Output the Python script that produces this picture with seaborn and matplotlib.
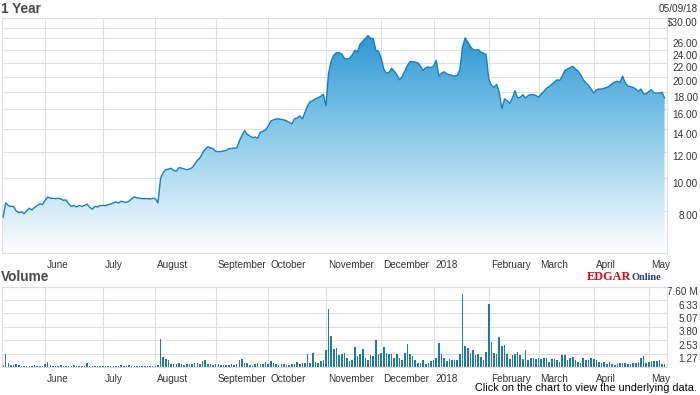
import numpy as np
import pandas as pd
import matplotlib
matplotlib.use("Agg")
import matplotlib.pyplot as plt
import matplotlib.transforms as mtransforms
from matplotlib.colors import LinearSegmentedColormap
from matplotlib.ticker import NullLocator
import seaborn as sns

# --- data: one value per trading day, 2017-05-09 .. 2018-05-09 ---
holidays = ["2017-05-29", "2017-07-04", "2017-09-04", "2017-11-23", "2017-12-25",
            "2018-01-01", "2018-01-15", "2018-02-19", "2018-03-30"]
days = pd.bdate_range("2017-05-09", "2018-05-09", freq="C", holidays=holidays)

close_price = [
    # May 2017
    7.66, 8.45, 8.3, 8.25, 8.25, 8.0, 7.9, 7.95, 7.85, 8.0, 8.15, 8.05, 8.2, 8.3, 8.4, 8.35,
    # June
    8.6, 8.8, 8.72, 8.72, 8.7, 8.72, 8.68, 8.6, 8.62, 8.4, 8.25, 8.3, 8.22, 8.3, 8.25, 8.3,
    8.38, 8.2, 8.1, 8.25, 8.22, 8.3,
    # July
    8.3, 8.3, 8.35, 8.38, 8.45, 8.5, 8.45, 8.55, 8.5, 8.48, 8.55, 8.7, 8.8, 8.75, 8.72, 8.7,
    8.7, 8.7, 8.68, 8.72,
    # August
    8.7, 8.45, 10.0, 10.4, 10.6, 10.65, 10.7, 10.55, 10.5, 10.75, 10.72, 10.65, 10.6, 10.65,
    10.75, 11.0, 11.3, 11.5, 11.9, 12.2, 12.4, 12.3, 12.25,
    # September
    12.0, 12.0, 12.0, 12.05, 12.1, 12.25, 12.25, 12.28, 12.3, 12.9, 13.4, 13.85, 13.5, 13.35,
    13.2, 13.25, 13.15, 13.7, 13.8, 13.9,
    # October
    14.3, 14.8, 14.9, 15.0, 15.0, 14.95, 14.9, 14.8, 14.65, 14.5, 15.0, 15.1, 15.3, 15.0,
    15.7, 16.4, 16.9, 17.0, 17.2, 17.35, 17.5, 17.75,
    # November
    16.4, 20.5, 22.3, 23.2, 23.6, 23.6, 23.4, 22.7, 22.6, 22.7, 23.2, 24.0, 23.7, 25.0,
    25.5, 26.0, 26.5, 26.0, 26.0, 24.0, 23.8,
    # December
    22.8, 21.1, 20.5, 20.6, 21.2, 20.8, 20.3, 19.6, 20.0, 20.8, 21.6, 22.2, 22.2, 22.1,
    22.0, 21.5, 20.9, 21.3, 21.4, 21.3,
    # January 2018
    21.5, 22.4, 20.1, 20.5, 20.7, 20.4, 20.3, 20.2, 20.1, 20.2, 21.0, 24.5, 26.1, 25.4,
    24.6, 24.1, 24.0, 24.1, 23.7, 23.5, 23.3,
    # February
    19.7, 18.9, 18.6, 19.0, 18.0, 16.1, 17.2, 17.0, 16.7, 17.3, 18.2, 17.3, 17.4, 17.7,
    17.3, 17.6, 17.7, 17.7, 17.6,
    # March
    17.4, 17.8, 18.1, 18.5, 18.7, 19.0, 19.3, 19.6, 19.5, 20.1, 20.9, 21.1, 21.3, 21.5,
    21.1, 20.8, 20.3, 19.6, 19.2, 18.9, 18.4,
    # April
    17.9, 18.3, 18.4, 18.4, 18.5, 18.6, 18.8, 19.1, 19.3, 19.4, 19.3, 20.1, 19.2, 18.8,
    18.7, 18.6, 18.4, 18.1, 18.4, 17.8, 17.8,
    # May 2018
    18.1, 18.3, 17.9, 17.9, 17.9, 18.0, 17.3,
]

volume_m = [
    0.15, 1.2, 0.35, 0.2, 0.15, 0.25, 0.2, 0.12, 0.1, 0.1,
    0.1, 0.12, 0.2, 0.1, 0.1, 0.12, 0.25, 0.45, 0.2, 0.1,
    0.1, 0.1, 0.18, 0.12, 0.1, 0.1, 0.12, 0.18, 0.12, 0.1,
    0.12, 0.1, 0.35, 0.1, 0.1, 0.1, 0.1, 0.1, 0.1, 0.1,
    0.1, 0.1, 0.1, 0.1, 0.12, 0.2, 0.12, 0.1, 0.18, 0.1,
    0.1, 0.1, 0.1, 0.1, 0.12, 0.1, 0.1, 0.1, 0.12, 0.15,
    2.65, 0.9, 0.8, 0.7, 0.3, 0.25, 0.25, 0.4, 0.25, 0.2,
    0.25, 0.25, 0.25, 0.4, 0.4, 0.3, 0.6, 0.7, 0.25, 0.25,
    0.15, 0.25, 0.25, 0.15, 0.15, 0.15, 0.15, 0.25, 0.2, 0.25,
    0.7, 0.8, 0.35, 0.35, 0.15, 0.12, 0.3, 0.35, 0.3, 0.25,
    0.5, 0.3, 0.55, 0.35, 0.25, 0.22, 0.25, 0.25, 0.15, 0.15,
    0.25, 0.25, 0.45, 0.25, 0.35, 0.42, 1.2, 0.35, 1.3, 0.5,
    0.4, 0.55, 0.7, 1.6, 5.5,
    2.95, 1.68, 1.77, 1.14, 1.2,
    1.3, 0.82, 0.57, 0.63, 1.9, 1.04, 1.2, 1.68, 0.82, 0.63,
    1.1, 1.04, 2.53, 1.2, 1.3, 1.9, 1.36, 1.2, 1.2, 0.89,
    1.2, 0.89, 0.63, 1.3, 2.15, 1.27, 1.04, 0.63, 0.41, 0.41,
    0.63, 0.25, 0.41, 0.57, 0.63, 0.82, 2.3, 1.2, 0.82, 0.57,
    0.73, 0.63, 0.63, 0.63, 1.2, 6.9, 1.96, 1.84, 1.3, 1.58,
    1.14, 1.2, 0.95, 0.63, 1.46, 6.0, 2.4, 1.36, 1.27, 2.88,
    1.96, 2.05, 1.27, 0.73, 1.1, 1.2, 1.46, 1.1, 0.73, 1.58,
    0.63, 0.82, 0.82, 0.76, 0.82, 0.76, 0.82, 0.82, 0.51, 0.73,
    0.73, 0.63, 0.51, 1.14, 1.14, 0.63, 0.89, 0.95, 0.63, 0.51,
    0.41, 0.82, 0.63, 0.63, 0.89, 0.73, 0.63, 0.51, 0.41, 0.51,
    0.25, 0.51, 0.25, 0.19, 0.32, 0.41, 0.41, 0.41, 0.25, 0.25,
    0.41, 0.41, 0.51, 0.82, 1.04, 0.38, 0.51, 0.57, 0.57, 0.57,
    0.63, 0.25, 0.3,
]

month_labels = ["June", "July", "August", "September", "October", "November",
                "December", "2018", "February", "March", "April", "May"]
price_ticks = [8, 10, 12, 14, 16, 18, 20, 22, 24, 26, 28, 30]
price_tick_labels = ["8.00", "10.00", "12.00", "14.00", "16.00", "18.00", "20.00",
                     "22.00", "24.00", "26.00", "", "$30.00"]
vol_ticks = [0, 1.27, 2.53, 3.80, 5.07, 6.33, 7.60]
vol_tick_labels = ["", "1.27", "2.53", "3.80", "5.07", "6.33", "7.60 M"]

n = min(len(close_price), len(volume_m), len(days))
day_idx = np.arange(n)
df = pd.DataFrame({"day": day_idx, "price": close_price[:n], "volume": volume_m[:n]})
month_starts = [i for i in range(1, n) if days[i].month != days[i - 1].month]

GRID = "#dcdee2"
TEXT = "#333333"
LINE = "#1b7fba"
BAR = "#2478a5"

sns.set_theme(style="white")
plt.rcParams["font.family"] = ["Liberation Sans", "DejaVu Sans"]

W, H = 700, 395
fig = plt.figure(figsize=(W / 100, H / 100), dpi=100)
ax = fig.add_axes([2 / W, 1 - 253 / H, 665 / W, (253 - 17.5) / H])
axv = fig.add_axes([2 / W, 1 - 367 / H, 665 / W, (367 - 286.7) / H])

# --- price panel ---
ax.set_yscale("log")
sns.lineplot(data=df, x="day", y="price", ax=ax, color=LINE, linewidth=1.0, zorder=3)
fill = ax.fill_between(df["day"], df["price"], 6.0, facecolor="none", edgecolor="none")
ax.set_xlim(-0.4, 252.9)
ax.set_ylim(6.0, 30.0)

cmap = LinearSegmentedColormap.from_list("fill", ["#ffffff", "#8ccbea", "#1c8fd1"])
grad = np.linspace(0, 1, 256).reshape(-1, 1)
im = ax.imshow(grad, cmap=cmap, aspect="auto", extent=(0, 1, 0, 1), origin="lower",
               transform=ax.transAxes, zorder=1)
im.set_clip_path(fill.get_paths()[0], transform=ax.transData)

ax.yaxis.set_minor_locator(NullLocator())
ax.set_yticks(price_ticks, price_tick_labels)

# --- volume panel ---
sns.barplot(data=df, x="day", y="volume", ax=axv, native_scale=True, width=0.6,
            color=BAR, saturation=1, errorbar=None, linewidth=0, zorder=2)
axv.set_xlim(-0.4, 252.9)
axv.set_ylim(0, 7.6)
axv.set_yticks(vol_ticks, vol_tick_labels)

dy = mtransforms.ScaledTranslation(0, -0.045, fig.dpi_scale_trans)
dx = mtransforms.ScaledTranslation(0.02, 0, fig.dpi_scale_trans)
for a in (ax, axv):
    a.set_xticks(month_starts, month_labels[:len(month_starts)])
    a.set_xlabel("")
    a.set_ylabel("")
    a.set_axisbelow(True)
    a.grid(True, which="major", color=GRID, linewidth=0.8)
    a.yaxis.tick_right()
    a.tick_params(axis="y", length=0, pad=22.3, labelsize=7.2, colors=TEXT)
    a.tick_params(axis="x", length=0, pad=5, labelsize=7.2, colors=TEXT)
    for lbl in a.get_yticklabels():
        lbl.set_horizontalalignment("right")
        lbl.set_transform(lbl.get_transform() + dy)
    for lbl in a.get_xticklabels():
        lbl.set_horizontalalignment("left")
        lbl.set_transform(lbl.get_transform() + dx)
    for sp in a.spines.values():
        sp.set_color(GRID)
        sp.set_linewidth(0.8)

# --- titles and notes ---
fig.text(1 / W, 1 - 9 / H, "1 Year", fontsize=9.8, fontweight="bold", color="#4a4a4a",
         ha="left", va="center")
fig.text(698 / W, 1 - 9 / H, "05/09/18", fontsize=7.2, color=TEXT, ha="right", va="center")
fig.text(1 / W, 1 - 277 / H, "Volume", fontsize=9.8, fontweight="bold", color="#4a4a4a",
         ha="left", va="center")
fig.text(587 / W, 1 - 280 / H, "EDGAR", family="Liberation Serif", fontweight="bold",
         fontsize=8.8, color="#d0101a", ha="left", va="baseline")
fig.text(632 / W, 1 - 280 / H, "Online", family="Liberation Serif", fontweight="bold",
         fontsize=7.4, color="#1f3f80", ha="left", va="baseline")
fig.text(697 / W, 1 - 388 / H, "Click on the chart to view the underlying data.",
         fontsize=7.8, color="black", ha="right", va="center")

fig.savefig("out.png", dpi=100)
